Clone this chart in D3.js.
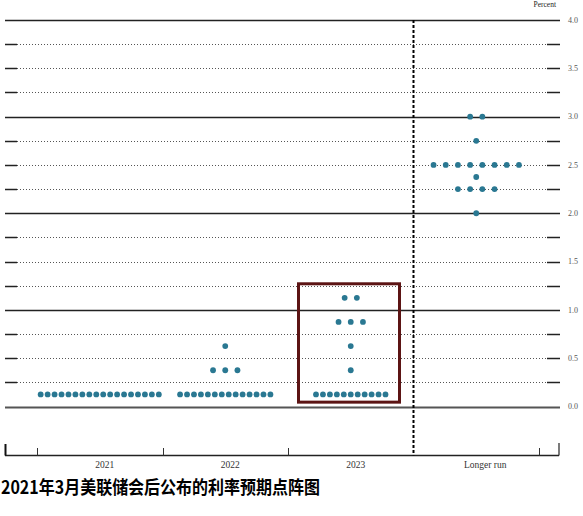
<!DOCTYPE html>
<html><head><meta charset="utf-8">
<script src="https://cdn.jsdelivr.net/npm/d3@7"></script>
<style>html,body{margin:0;padding:0;background:#fff;}svg{display:block;}</style>
</head><body>
<svg id="c" width="583" height="516"></svg>
<script>
const categories = ["2021", "2022", "2023", "Longer run"];
const dots2021 = [{rate: 0.125, count: 18}];
const dots2022 = [{rate: 0.125, count: 14}, {rate: 0.375, count: 3}, {rate: 0.625, count: 1}];
const dots2023 = [{rate: 0.125, count: 11}, {rate: 0.375, count: 1}, {rate: 0.625, count: 1}, {rate: 0.875, count: 3}, {rate: 1.125, count: 2}];
const dotsLonger = [{rate: 2.0, count: 1}, {rate: 2.25, count: 4}, {rate: 2.375, count: 1}, {rate: 2.5, count: 8}, {rate: 2.75, count: 1}, {rate: 3.0, count: 2}];
const gridLevels = d3.range(0, 4.001, 0.25);
const yTickLabels = ["0.0", "0.5", "1.0", "1.5", "2.0", "2.5", "3.0", "3.5", "4.0"];
const title = "2021年3月美联储会后公布的利率预期点阵图";

const series = {"2021": dots2021, "2022": dots2022, "2023": dots2023, "Longer run": dotsLonger};

const svg = d3.select("#c");
const left = 5, right = 560, plotRight = 547, plotLeft = 17;
const x = d3.scaleBand().domain(categories).range([37, 539]).padding(0);
const y = d3.scaleLinear().domain([0, 4]).range([406.5, 20]);

// grid lines
gridLevels.forEach(v => {
  const yy = Math.round(y(v)) + 0.5;
  const isInt = Math.abs(v - Math.round(v)) < 1e-6;
  if (isInt) {
    svg.append("line").attr("x1", left).attr("x2", right).attr("y1", yy).attr("y2", yy)
      .attr("stroke", v === 0 ? "#555" : "#222").attr("stroke-width", v === 0 ? 2 : 1.5);
  } else {
    svg.append("line").attr("x1", plotLeft).attr("x2", plotRight).attr("y1", yy).attr("y2", yy)
      .attr("stroke", "#555").attr("stroke-width", 1).attr("stroke-dasharray", "1,2");
    svg.append("line").attr("x1", left).attr("x2", plotLeft).attr("y1", yy).attr("y2", yy)
      .attr("stroke", "#222").attr("stroke-width", 1.5);
    svg.append("line").attr("x1", plotRight).attr("x2", right).attr("y1", yy).attr("y2", yy)
      .attr("stroke", "#222").attr("stroke-width", 1.5);
  }
});

// y labels
yTickLabels.forEach(t => {
  svg.append("text").attr("x", 568).attr("y", y(+t)).attr("dy", "0.35em")
    .attr("font-family", "Liberation Serif, serif").attr("font-size", 8).attr("fill", "#555").text(t);
});
svg.append("text").attr("x", 556).attr("y", 7).attr("text-anchor", "end")
  .attr("font-family", "Liberation Serif, serif").attr("font-size", 7.5).attr("fill", "#222").text("Percent");

// bottom axis
const axisY = 455.5;
svg.append("line").attr("x1", left).attr("x2", 559).attr("y1", axisY).attr("y2", axisY)
  .attr("stroke", "#222").attr("stroke-width", 1.5);
svg.append("line").attr("x1", left + 0.5).attr("x2", left + 0.5).attr("y1", 444).attr("y2", axisY)
  .attr("stroke", "#111").attr("stroke-width", 2);
svg.append("line").attr("x1", 559).attr("x2", 559).attr("y1", 443).attr("y2", axisY)
  .attr("stroke", "#222").attr("stroke-width", 1.2);
const bounds = categories.map(c => x(c)).concat([x.range()[1]]);
bounds.forEach((b, i) => {
  if (i === 3) return;
  svg.append("line").attr("x1", Math.round(b) + 0.5).attr("x2", Math.round(b) + 0.5).attr("y1", 448).attr("y2", axisY)
    .attr("stroke", "#333").attr("stroke-width", 1);
});
categories.forEach((c, i) => {
  svg.append("text").attr("x", x(c) + x.bandwidth() / 2 + (i === 3 ? 9 : 5)).attr("y", 468)
    .attr("text-anchor", "middle").attr("font-family", "Liberation Serif, serif").attr("font-size", 9.5)
    .attr("fill", "#333").text(c);
});

// dashed separator
const sepX = x("Longer run");
svg.append("line").attr("x1", sepX).attr("x2", sepX).attr("y1", 20).attr("y2", axisY)
  .attr("stroke", "#000").attr("stroke-width", 2).attr("stroke-dasharray", "3,2");

// dots
categories.forEach(c => {
  const cx = x(c) + x.bandwidth() / 2;
  series[c].forEach(d => {
    const step = d.count > 8 ? 6.95 : 12.2;
    for (let i = 0; i < d.count; i++) {
      svg.append("circle")
        .attr("cx", cx + (i - (d.count - 1) / 2) * step)
        .attr("cy", y(d.rate))
        .attr("r", 2.9)
        .attr("fill", "#2a7892");
    }
  });
});

// highlight box around 2023
svg.append("rect").attr("x", x("2023") + 10.5).attr("y", y(1.27)).attr("width", 101)
  .attr("height", y(0.045) - y(1.27)).attr("fill", "none").attr("stroke", "#5c1414").attr("stroke-width", 3);

// title
svg.append("text").attr("x", 1).attr("y", 494)
  .attr("font-family", "Noto Sans CJK SC, sans-serif").attr("font-weight", 700).attr("font-size", 18)
  .attr("textLength", 319).attr("lengthAdjust", "spacingAndGlyphs")
  .attr("fill", "#000").text(title);
</script>
</body></html>
